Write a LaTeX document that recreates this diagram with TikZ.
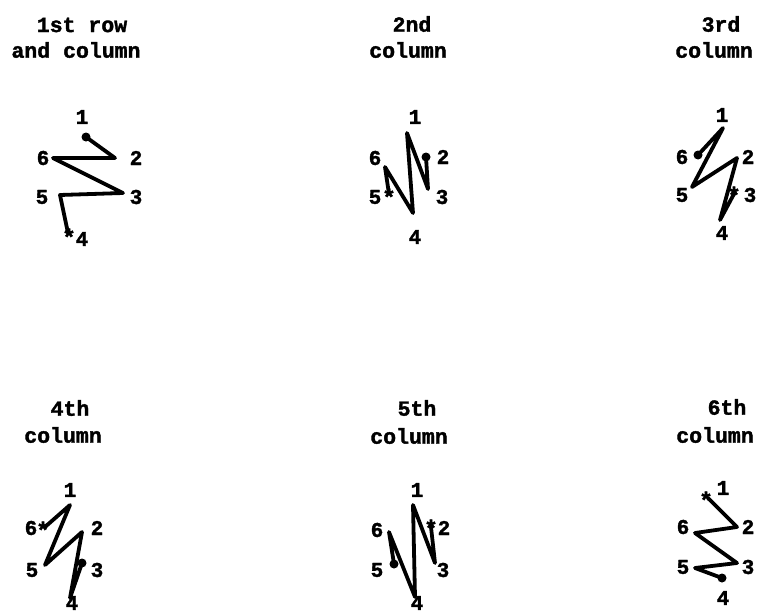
\documentclass[tikz,border=0pt]{standalone}
\usepackage{fontspec}
\setmonofont[BoldFeatures={FakeBold=1.6}]{Liberation Mono}
\begin{document}
\begin{tikzpicture}[x=1pt,y=-1pt,
  ttl/.style={font=\ttfamily\bfseries\fontsize{21.5}{22}\selectfont,inner sep=0pt},
  lbl/.style={font=\ttfamily\bfseries\fontsize{21}{22}\selectfont,inner sep=0pt},
  zig/.style={line width=3.8pt,line join=round,line cap=round},
  dotmark/.style={circle,fill=black,inner sep=0pt,minimum size=9pt},
  starmark/.style={font=\ttfamily\bfseries\fontsize{23}{23}\selectfont,inner sep=0pt}]
\useasboundingbox (0,0) rectangle (758,613);
% ---------- titles
\node[ttl] (t1a) at (82,25) {1st row};
\node[ttl] (t1b) at (76,50) {and column};
\node[ttl] (t2a) at (412,24) {2nd};
\node[ttl] (t2b) at (408,50) {column};
\node[ttl] (t3a) at (721,24) {3rd};
\node[ttl] (t3b) at (714,50) {column};
\node[ttl] (t4a) at (70,408) {4th};
\node[ttl] (t4b) at (63,435) {column};
\node[ttl] (t5a) at (417,408) {5th};
\node[ttl] (t5b) at (409,436) {column};
\node[ttl] (t6a) at (727,407) {6th};
\node[ttl] (t6b) at (715,435) {column};
% ---------- panel 1
\coordinate (a1) at (86,137); \coordinate (a2) at (115,158); \coordinate (a6) at (53,158);
\coordinate (a3) at (123,193); \coordinate (a5) at (60,195); \coordinate (a4) at (68,233);
\node[lbl] (la1) at (82,117) {1}; \node[lbl] (la2) at (136,158) {2};
\node[lbl] (la6) at (43,158) {6}; \node[lbl] (la3) at (136,197) {3};
\node[lbl] (la5) at (42,197) {5}; \node[lbl] (la4) at (82,239) {4};
\draw[zig] (a1) -- (a2) -- (a6) -- (a3) -- (a5) -- (a4);
\node[dotmark] (da) at (a1) {};
\node[starmark] (sa) at (69,237) {*};
% ---------- panel 2
\coordinate (b1) at (407,133); \coordinate (b2) at (426,157); \coordinate (b3) at (428,189);
\coordinate (b4) at (413,213); \coordinate (b6) at (385,167); \coordinate (b5) at (389,194);
\node[lbl] (lb1) at (415,117) {1}; \node[lbl] (lb2) at (443,157) {2};
\node[lbl] (lb3) at (442,197) {3}; \node[lbl] (lb4) at (415,237) {4};
\node[lbl] (lb6) at (375,158) {6}; \node[lbl] (lb5) at (375,197) {5};
\draw[zig] (b2) -- (b3) -- (b1) -- (b4) -- (b6) -- (b5);
\node[dotmark] (db) at (b2) {};
\node[starmark] (sb) at (389,197) {*};
% ---------- panel 3
\coordinate (c1) at (723,128); \coordinate (c6) at (698,155); \coordinate (c2) at (737,158);
\coordinate (c5) at (692,187); \coordinate (c3) at (735,192); \coordinate (c4) at (720,220);
\node[lbl] (lc1) at (722,115) {1}; \node[lbl] (lc6) at (682,157) {6};
\node[lbl] (lc2) at (748,157) {2}; \node[lbl] (lc5) at (682,195) {5};
\node[lbl] (lc3) at (750,195) {3}; \node[lbl] (lc4) at (722,233) {4};
\draw[zig] (c6) -- (c1) -- (c5) -- (c2) -- (c4) -- (c3);
\node[dotmark] (dc) at (c6) {};
\node[starmark] (sc) at (734,195) {*};
% ---------- panel 4
\coordinate (d1) at (70,505); \coordinate (d6) at (45,527); \coordinate (d2) at (82,532);
\coordinate (d5) at (45,565); \coordinate (d3) at (82,563); \coordinate (d4) at (70,598);
\node[lbl] (ld1) at (70,490) {1}; \node[lbl] (ld6) at (31,528) {6};
\node[lbl] (ld2) at (97,528) {2}; \node[lbl] (ld5) at (32,570) {5};
\node[lbl] (ld3) at (97,570) {3}; \node[lbl] (ld4) at (72,603) {4};
\draw[zig] (d3) -- (d4) -- (d2) -- (d5) -- (d1) -- (d6);
\node[dotmark] (dd) at (d3) {};
\node[starmark] (sd) at (43,530) {*};
% ---------- panel 5
\coordinate (e1) at (413,505); \coordinate (e2) at (431,527); \coordinate (e3) at (435,563);
\coordinate (e4) at (415,597); \coordinate (e6) at (389,532); \coordinate (e5) at (394,564);
\node[lbl] (le1) at (417,490) {1}; \node[lbl] (le2) at (444,528) {2};
\node[lbl] (le3) at (443,570) {3}; \node[lbl] (le4) at (417,603) {4};
\node[lbl] (le6) at (377,530) {6}; \node[lbl] (le5) at (377,570) {5};
\draw[zig] (e5) -- (e6) -- (e4) -- (e1) -- (e3) -- (e2);
\node[dotmark] (de) at (e5) {};
\node[starmark] (se) at (431,528) {*};
% ---------- panel 6
\coordinate (f1) at (708,498); \coordinate (f2) at (737,527); \coordinate (f6) at (695,533);
\coordinate (f3) at (737,563); \coordinate (f5) at (695,568); \coordinate (f4) at (722,578);
\node[lbl] (lf1) at (723,488) {1}; \node[lbl] (lf2) at (748,527) {2};
\node[lbl] (lf6) at (683,527) {6}; \node[lbl] (lf3) at (748,567) {3};
\node[lbl] (lf5) at (683,567) {5}; \node[lbl] (lf4) at (723,598) {4};
\draw[zig] (f4) -- (f5) -- (f3) -- (f6) -- (f2) -- (f1);
\node[dotmark] (df) at (f4) {};
\node[starmark] (sf) at (706,500) {*};
\end{tikzpicture}
\end{document}
